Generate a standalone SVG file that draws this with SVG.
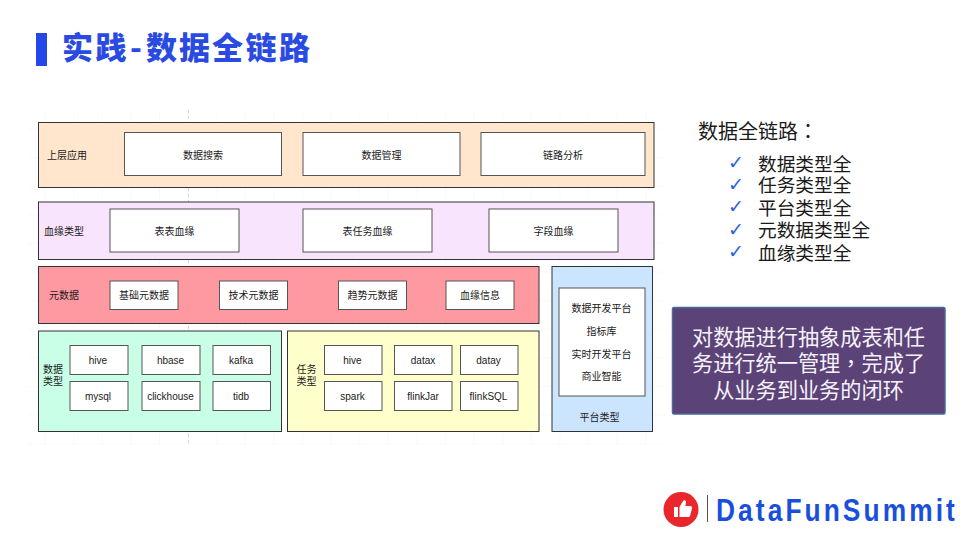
<svg xmlns="http://www.w3.org/2000/svg" width="960" height="540" viewBox="0 0 960 540">
<style>
text{font-family:"Noto Sans CJK SC","Liberation Sans",sans-serif;fill:#1a1a1a}
.l{font-size:10px;text-anchor:middle;dominant-baseline:central;font-family:"Liberation Sans","Noto Sans CJK SC",sans-serif}
.b{fill:#fff;stroke:#555;stroke-width:1}
.g{stroke:#333;stroke-width:1}
.i{font-size:18.7px}
.c{font-size:19px;fill:#2f5fd8;font-family:"DejaVu Sans",sans-serif}
.w{font-size:21.2px;fill:#f6f2fa;text-anchor:middle}
.t{font-family:"Noto Sans CJK TC",sans-serif}
</style>
<defs>
<pattern id="grid" x="17" y="101" width="28.6" height="28.6" patternUnits="userSpaceOnUse"><path d="M28.6 0V28.6M0 28.6H28.6" fill="none" stroke="#f5f5f5" stroke-width="1"/></pattern>
</defs>
<rect width="960" height="540" fill="#fff"/>
<rect x="28" y="110" width="637" height="335" fill="url(#grid)"/>
<path d="M188.500 110V445" stroke="#d8d8d8" stroke-width="1" stroke-dasharray="3 3"/>
<g id="title">
<rect x="36" y="33" width="11" height="33" fill="#2547e8"/>
<text x="62 95.500 130 146 179 212 245.500 279" y="59" style="font-size:31px;font-weight:900;fill:#2a4be2">实践-数据全链路</text>
</g>
<g id="top-layer">
<rect class="g" x="38.5" y="122.5" width="615.5" height="65" fill="#ffe6cc"/>
<text class="l" x="67" y="155.500">上层应用</text>
<g id="n-search"><rect class="b" x="124.500" y="132.500" width="157" height="43"/><text class="l" x="203" y="155">数据搜索</text></g>
<g id="n-manage"><rect class="b" x="303" y="132.500" width="157" height="43"/><text class="l" x="381.500" y="155">数据管理</text></g>
<g id="n-analysis"><rect class="b" x="481" y="132.500" width="164" height="43"/><text class="l" x="563" y="155">链路分析</text></g>
</g>
<g id="lineage-layer">
<rect class="g" x="38.5" y="202" width="615.500" height="57.500" fill="#f8e4fc"/>
<text class="l" x="64" y="231">血缘类型</text>
<g id="n-tt"><rect class="b" x="110" y="209" width="129" height="43"/><text class="l" x="174.500" y="231">表表血缘</text></g>
<g id="n-tj"><rect class="b" x="303" y="209" width="129" height="43"/><text class="l" x="367.500" y="231">表任务血缘</text></g>
<g id="n-field"><rect class="b" x="489" y="209" width="129" height="43"/><text class="l" x="553.500" y="231">字段血缘</text></g>
</g>
<g id="meta-layer">
<rect class="g" x="38.5" y="266.500" width="500.500" height="57" fill="#ff99a1"/>
<text class="l" x="64" y="295.500">元数据</text>
<g id="n-m1"><rect class="b" x="110" y="281" width="68" height="28.500"/><text class="l" x="144" y="295.500">基础元数据</text></g>
<g id="n-m2"><rect class="b" x="219.500" y="281" width="68" height="28.500"/><text class="l" x="253.500" y="295.500">技术元数据</text></g>
<g id="n-m3"><rect class="b" x="338.500" y="281" width="68" height="28.500"/><text class="l" x="372.500" y="295.500">趋势元数据</text></g>
<g id="n-m4"><rect class="b" x="446" y="281" width="68" height="28.500"/><text class="l" x="480" y="295.500">血缘信息</text></g>
</g>
<g id="data-layer">
<rect class="g" x="38.5" y="331" width="243" height="100.500" fill="#c9ffe6"/>
<text class="l" x="53" y="369">数据</text><text class="l" x="53" y="381">类型</text>
<g id="n-d1"><rect class="b" x="70" y="345.500" width="58" height="29"/><text class="l" x="98" y="360">hive</text></g>
<g id="n-d2"><rect class="b" x="142" y="345.500" width="58" height="29"/><text class="l" x="170.500" y="360">hbase</text></g>
<g id="n-d3"><rect class="b" x="213" y="345.500" width="57.500" height="29"/><text class="l" x="241" y="360">kafka</text></g>
<g id="n-d4"><rect class="b" x="70" y="381.500" width="58" height="29"/><text class="l" x="98" y="396">mysql</text></g>
<g id="n-d5"><rect class="b" x="142" y="381.500" width="58" height="29"/><text class="l" x="170.500" y="396">clickhouse</text></g>
<g id="n-d6"><rect class="b" x="213" y="381.500" width="57.500" height="29"/><text class="l" x="241" y="396">tidb</text></g>
</g>
<g id="task-layer">
<rect class="g" x="287.500" y="331" width="251.500" height="100.500" fill="#ffffcc"/>
<text class="l" x="306.500" y="369">任务</text><text class="l" x="306.500" y="381">类型</text>
<g id="n-t1"><rect class="b" x="324.500" y="345.500" width="57.500" height="29"/><text class="l" x="352.500" y="360">hive</text></g>
<g id="n-t2"><rect class="b" x="394.500" y="345.500" width="57.500" height="29"/><text class="l" x="423" y="360">datax</text></g>
<g id="n-t3"><rect class="b" x="460.500" y="345.500" width="57.500" height="29"/><text class="l" x="488.500" y="360">datay</text></g>
<g id="n-t4"><rect class="b" x="324.500" y="381.500" width="57.500" height="29"/><text class="l" x="352.500" y="396">spark</text></g>
<g id="n-t5"><rect class="b" x="394.500" y="381.500" width="57.500" height="29"/><text class="l" x="423" y="396">flinkJar</text></g>
<g id="n-t6"><rect class="b" x="460.500" y="381.500" width="57.500" height="29"/><text class="l" x="488.500" y="396">flinkSQL</text></g>
</g>
<g id="platform-layer">
<rect class="g" x="552" y="266.500" width="100.500" height="165" fill="#cce5ff"/>
<rect class="b" x="559" y="288" width="86" height="108"/>
<text class="l" x="601.500" y="308">数据开发平台</text>
<text class="l" x="601.500" y="331">指标库</text>
<text class="l" x="601.500" y="354">实时开发平台</text>
<text class="l" x="601.500" y="376.500">商业智能</text>
<text class="l" x="599.500" y="417.500">平台类型</text>
</g>
<g id="summary">
<text x="698" y="139" style="font-size:20px">数据全链路<tspan class="t">：</tspan></text>
<text class="c" x="728" y="169">✓</text><text class="i" x="758" y="171">数据类型全</text>
<text class="c" x="728" y="191">✓</text><text class="i" x="758" y="192">任务类型全</text>
<text class="c" x="728" y="213">✓</text><text class="i" x="758" y="215">平台类型全</text>
<text class="c" x="728" y="236">✓</text><text class="i" x="758" y="237">元数据类型全</text>
<text class="c" x="728" y="258">✓</text><text class="i" x="758" y="260">血缘类型全</text>
</g>
<g id="callout">
<rect x="672.500" y="307.500" width="272.500" height="106.500" rx="1.500" fill="#5b4377" stroke="#4a6a96" stroke-width="1.500"/>
<text class="w" x="808.500" y="344.500">对数据进行抽象成表和任</text>
<text class="w" x="808.500" y="371">务进行统一管理<tspan class="t">，</tspan>完成了</text>
<text class="w" x="808.500" y="398">从业务到业务的闭环</text>
</g>
<g id="logo">
<circle cx="681" cy="509.500" r="17.500" fill="#e8262c"/>
<path d="M674 507h4v10h-4zM679.500 507l3.500-6c1-1.500 3.500-.8 3 1.500l-.7 3.500h5c1.300 0 2 1 1.700 2.300l-1.800 7.200c-.3 1-1 1.500-2 1.500h-8.700z" fill="#fff"/>
<path d="M707.500 495V522" stroke="#555" stroke-width="1"/>
<text transform="translate(716 521) scale(.85 1)" x="0" y="0" textLength="281" lengthAdjust="spacing" style="font-size:31px;font-weight:700;fill:#1a4fdc;font-family:'Liberation Sans',sans-serif">DataFunSummit</text>
</g>
</svg>
